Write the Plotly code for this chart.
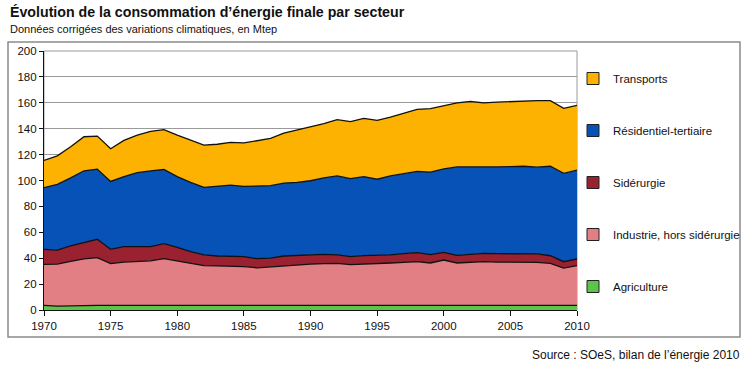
import plotly.graph_objects as go

years = list(range(1970, 2011))

agriculture = [3.5, 3.0, 3.2, 3.6, 3.6, 3.6, 3.6, 3.6, 3.6, 3.6, 3.6, 3.5, 3.4, 3.2, 3.4, 3.5, 3.5, 3.5, 3.5, 3.5,
               3.5, 3.6, 3.6, 3.6, 3.6, 3.6, 3.7, 3.7, 3.7, 3.7, 3.7, 3.7, 3.7, 3.7, 3.7, 3.7, 3.6, 3.5, 3.6, 3.6, 3.6]
industrie = [31.8, 32.5, 34.3, 35.9, 36.8, 32.2, 33.4, 33.9, 34.4, 36.0, 34.2, 32.3, 30.8, 30.8, 30.4, 30.0, 29.1, 29.8,
             31.0, 31.7, 31.9, 32.2, 32.4, 31.4, 32.0, 32.4, 32.6, 33.1, 33.6, 32.6, 34.9, 32.6, 33.1, 33.6, 33.3, 33.3,
             33.4, 33.3, 32.4, 28.8, 30.6]
siderurgie = [11.5, 10.8, 12.0, 12.5, 14.2, 11.0, 11.9, 11.4, 10.9, 11.6, 10.6, 9.2, 8.3, 7.7, 7.9, 7.7, 7.0, 6.7, 7.2,
              7.0, 7.1, 7.2, 6.5, 6.2, 6.4, 6.2, 6.2, 6.7, 7.0, 6.5, 5.9, 5.9, 6.4, 6.5, 6.5, 6.5, 6.8, 6.5, 5.9, 4.9, 5.2]
residentiel = [47.7, 50.7, 52.5, 55.5, 54.2, 52.5, 54.1, 57.1, 58.6, 57.3, 54.6, 53.5, 52.2, 53.8, 54.8, 54.3, 55.9,
               56.0, 56.3, 56.3, 57.3, 59.0, 61.0, 60.3, 61.0, 58.8, 61.0, 62.0, 62.7, 63.7, 64.5, 68.3, 67.3, 66.2,
               67.0, 67.2, 67.2, 67.0, 69.1, 68.2, 68.6]
transports = [21.0, 22.0, 24.0, 26.3, 25.5, 25.2, 28.0, 29.0, 30.5, 30.8, 32.0, 32.5, 32.6, 32.5, 33.0, 33.5, 35.5,
              36.5, 38.5, 40.5, 41.2, 42.0, 43.5, 44.0, 45.0, 45.5, 45.5, 46.5, 48.0, 49.0, 49.0, 49.5, 50.5, 50.0,
              50.0, 50.3, 50.5, 51.4, 50.7, 50.2, 50.0]

series_names = ["Agriculture", "Industrie, hors sidérurgie", "Sidérurgie", "Résidentiel-tertiaire", "Transports"]
series_values = [agriculture, industrie, siderurgie, residentiel, transports]
series_colors = ["#5DC44A", "#E27F84", "#9A2230", "#0652B6", "#FDB202"]

y_ticks = list(range(0, 201, 20))
x_ticks = list(range(1970, 2011, 5))

FONT = "Arial, Liberation Sans, Helvetica, sans-serif"

fig = go.Figure()
for name, vals, col in zip(series_names, series_values, series_colors):
    fig.add_trace(go.Scatter(
        x=years, y=vals, name=name, stackgroup="one", mode="lines",
        line=dict(color="#111111", width=1.3), fillcolor=col,
        showlegend=False, hoverinfo="x+y+name"))

# legend entries (square swatches), top entry first
for name, col in reversed(list(zip(series_names, series_colors))):
    fig.add_trace(go.Bar(x=[None], y=[None], name=name, legendgroup="lg_" + name,
                         marker=dict(color=col, line=dict(color="#222222", width=1))))


def py(pix):
    return (310 - pix) / 259.0


def px(pix):
    return (pix - 44) / 533.0


fig.update_layout(
    width=748, height=367,
    margin=dict(l=44, r=171, t=51, b=57, autoexpand=False),
    paper_bgcolor="white", plot_bgcolor="white",
    font=dict(family=FONT, size=11, color="#111111"),
    showlegend=True,
    legend=dict(x=px(573), xanchor="left", y=py(64), yanchor="top",
                traceorder="grouped", tracegroupgap=33,
                font=dict(family=FONT, size=11.5, color="#111111"),
                bgcolor="rgba(0,0,0,0)", itemwidth=30),
    xaxis=dict(range=[1970, 2010], tickvals=x_ticks, showgrid=False, zeroline=False,
               showline=True, linecolor="#111111", linewidth=1.2,
               ticks="outside", ticklen=5, tickcolor="#111111", tickfont=dict(size=11.5)),
    yaxis=dict(range=[0, 200], tickvals=y_ticks, showgrid=True, gridcolor="#9a9a9a", gridwidth=1,
               zeroline=False, showline=True, linecolor="#111111", linewidth=1.2,
               ticks="outside", ticklen=4, tickcolor="#111111", tickfont=dict(size=11.5)),
    shapes=[
        dict(type="rect", xref="paper", yref="paper", x0=px(8), x1=px(740), y0=py(337), y1=py(42),
             line=dict(color="#8a8a8a", width=1.5), fillcolor="rgba(0,0,0,0)", layer="below"),
        dict(type="rect", xref="paper", yref="paper", x0=0, x1=1, y0=0, y1=1,
             line=dict(color="#9a9a9a", width=1), fillcolor="rgba(0,0,0,0)", layer="below"),
    ],
    annotations=[
        dict(text="<b>Évolution de la consommation d’énergie finale par secteur</b>", xref="paper", yref="paper",
             x=px(8), y=py(12), xanchor="left", yanchor="middle", showarrow=False,
             font=dict(family=FONT, size=14.2, color="#111111")),
        dict(text="Données corrigées des variations climatiques, en Mtep", xref="paper", yref="paper",
             x=px(8), y=py(29), xanchor="left", yanchor="middle", showarrow=False,
             font=dict(family=FONT, size=11, color="#111111")),
        dict(text="Source : SOeS, bilan de l’énergie 2010", xref="paper", yref="paper",
             x=px(742), y=py(355), xanchor="right", yanchor="middle", showarrow=False,
             font=dict(family=FONT, size=12, color="#111111")),
    ],
)

fig.write_html("out.html", config={"displayModeBar": False},
               post_script="document.body.style.margin='0';document.body.style.padding='0';")
